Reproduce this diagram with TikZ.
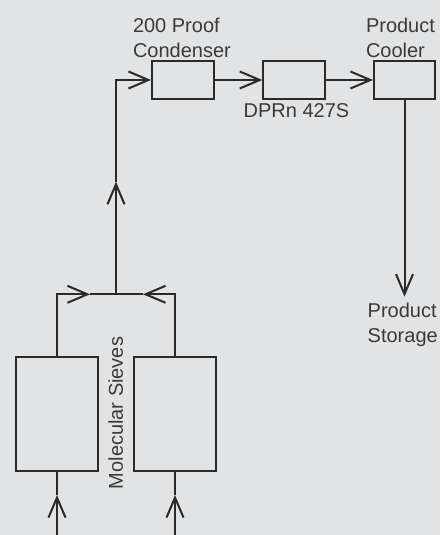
\documentclass[tikz,border=0pt]{standalone}
\usepackage{fontspec}
\setmainfont{Liberation Sans}
\usetikzlibrary{arrows.meta}
\definecolor{bg}{HTML}{E2E3E4}
\definecolor{ink}{HTML}{2A2A2A}
\definecolor{txt}{HTML}{3A3A3A}
\begin{document}
\begin{tikzpicture}[x=1pt,y=1pt,line width=2pt,color=ink,
  unit/.style={draw=ink,inner sep=0pt,minimum width=62pt,minimum height=38pt},
  sieve/.style={draw=ink,inner sep=0pt,minimum width=82.6pt,minimum height=113.4pt},
  lbl/.style={text=txt,font=\fontsize{20}{25}\selectfont,inner sep=0pt,align=left,anchor=north west},
  flow/.style={-{Straight Barb[length=20pt,width=17pt]}}]
\fill[bg] (0,0) rectangle (440,535);
\useasboundingbox (0,0) rectangle (440,535);
% units
\node[unit] (cond) at (183,455) {};
\node[unit] (dprn) at (294.3,455) {};
\node[unit,minimum width=61pt] (cool) at (404.5,455) {};
\node[sieve] (sieveL) at (57,121) {};
\node[sieve] (sieveR) at (175,121) {};
% points on the lines
\coordinate (inL) at (57,0);
\coordinate (inR) at (175,0);
\coordinate (upL) at (57,40);
\coordinate (upR) at (175,40);
\coordinate (topL) at (57,240.7);
\coordinate (topR) at (175,240.7);
\coordinate (mrgL) at (90,240.7);
\coordinate (mrgR) at (143,240.7);
\coordinate (jn) at (116,240.7);
\coordinate (rise) at (116,353.3);
\coordinate (bend) at (116,455);
\coordinate (store) at (404.5,238.3);
% flow
\draw[flow] (inL)--(upL);
\draw (upL)--(sieveL.south);
\draw[flow] (inR)--(upR);
\draw (upR)--(sieveR.south);
\draw[flow] (sieveL.north)--(topL)--(mrgL);
\draw[flow] (sieveR.north)--(topR)--(mrgR);
\draw (mrgL)--(mrgR);
\draw[flow] (jn)--(rise);
\draw[flow] (rise)--(bend)--(cond.west);
\draw[flow] (cond.east)--(dprn.west);
\draw[flow] (dprn.east)--(cool.west);
\draw[flow] (cool.south)--(store);
% labels
\node[lbl] (condlbl) at (132,518) {200 Proof\\Condenser};
\node[lbl] (dprnlbl) at (242.7,432) {DPRn 427S};
\node[lbl] (coollbl) at (365,518) {Product\\Cooler};
\node[lbl] (storelbl) at (366.7,233.3) {Product\\Storage};
\node[text=txt,font=\fontsize{20}{25}\selectfont,rotate=90,inner sep=0pt] (sievelbl) at (115.7,122) {Molecular Sieves};
\end{tikzpicture}
\end{document}
